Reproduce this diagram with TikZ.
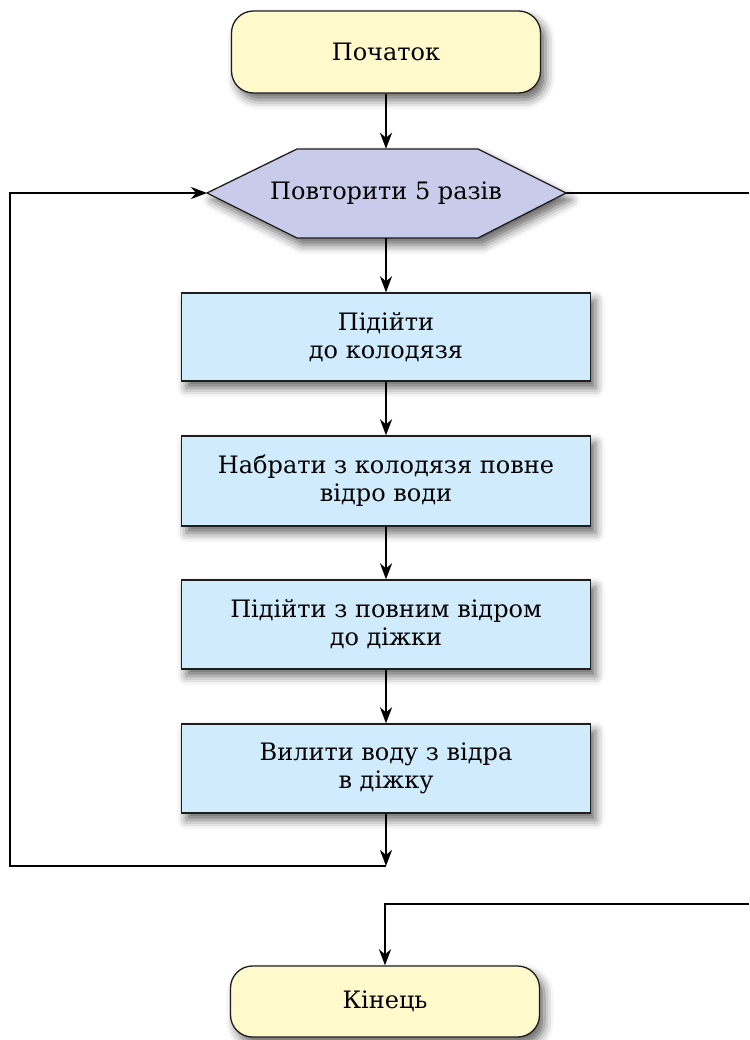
\documentclass[tikz,border=0pt]{standalone}
\usepackage{fontspec}
\setmainfont{DejaVu Serif}
\usetikzlibrary{arrows.meta,shadows.blur}
\definecolor{startfill}{RGB}{255,249,204}
\definecolor{hexfill}{RGB}{200,204,234}
\definecolor{boxfill}{RGB}{207,235,252}
\definecolor{edgecol}{RGB}{30,30,30}
\tikzset{
  shad/.style={blur shadow={shadow xshift=5pt,shadow yshift=-7pt,shadow blur radius=9pt,shadow opacity=60}},
  term/.style={draw=edgecol,line width=1.3pt,fill=startfill,rounded corners=22pt,minimum width=309pt,inner sep=0pt,align=center,shad},
  act/.style={draw=edgecol,line width=1.3pt,fill=boxfill,minimum width=409pt,inner sep=0pt,align=center,shad},
  conn/.style={line width=2.5pt,black},
  arr/.style={conn,-{Stealth[length=16pt,width=12pt,inset=5pt]}},
  txt/.style={font=\fontsize{24}{28}\selectfont}
}
\begin{document}
\begin{tikzpicture}[x=1pt,y=-1pt]
\useasboundingbox (0,0) rectangle (749,1040);
% nodes
\node[term,txt,minimum height=82pt] (start) at (386,52) {Початок};
\coordinate (repL) at (207,193);
\coordinate (repR) at (566,193);
\draw[draw=edgecol,line width=1.3pt,fill=hexfill,shad]
  (repL) -- (297,149) -- (478,149) -- (repR) -- (478,238) -- (297,238) -- cycle;
\node[txt,minimum height=89pt,minimum width=180pt,inner sep=0pt] (rep) at (386,193.5) {Повторити 5 разів};
\node[act,txt,minimum height=88pt] (b1) at (386,337) {Підійти\\до колодязя};
\node[act,txt,minimum height=90pt] (b2) at (386,481) {Набрати з колодязя повне\\відро води};
\node[act,txt,minimum height=89pt] (b3) at (386,624.5) {Підійти з повним відром\\до діжки};
\node[act,txt,minimum height=89pt] (b4) at (386,768.5) {Вилити воду з відра\\в діжку};
\node[term,txt,minimum height=71pt] (end) at (385,1001.5) {Кінець};
% coordinates for connectors
\coordinate (loopC) at (b4.south |- 0,866);
\coordinate (loopL) at (10,866);
\coordinate (loopT) at (10,193);
\coordinate (exitR) at (749,193);
\coordinate (exitR2) at (749,904);
\coordinate (exitC) at (end.north |- 0,904);
% connectors
\draw[arr] (start.south) -- (start.south |- rep.north);
\draw[arr] (b1.north |- rep.south) -- (b1.north);
\draw[arr] (b1.south) -- (b2.north);
\draw[arr] (b2.south) -- (b3.north);
\draw[arr] (b3.south) -- (b4.north);
\draw[arr] (b4.south) -- (loopC);
\draw[arr] (loopC) -- (loopL) -- (loopT) -- (repL);
\draw[conn] (repR) -- (exitR);
\draw[arr] (exitR2) -- (exitC) -- (end.north);
\end{tikzpicture}
\end{document}
